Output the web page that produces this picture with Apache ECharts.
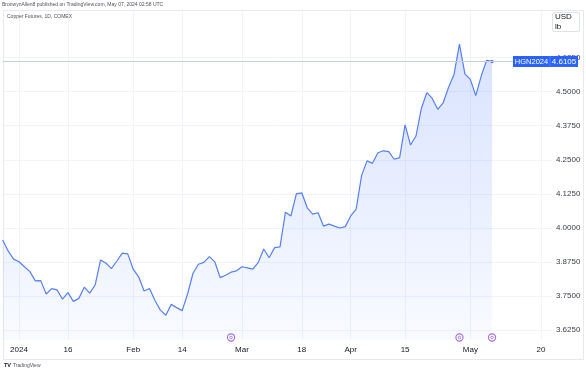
<!DOCTYPE html>
<html><head><meta charset="utf-8">
<script src="https://cdn.jsdelivr.net/npm/echarts@6/dist/echarts.min.js"></script>
<style>html,body{margin:0;padding:0;background:#fff}#c{width:586px;height:373px}</style>
</head><body><div id="c"></div>
<script>
// Trading days (Dec 27 2023 .. May 22 2024)
const dates = [
'2023-12-27','2023-12-28','2023-12-29',
'2024-01-02','2024-01-03','2024-01-04','2024-01-05','2024-01-08','2024-01-09','2024-01-10','2024-01-11','2024-01-12',
'2024-01-16','2024-01-17','2024-01-18','2024-01-19','2024-01-22','2024-01-23','2024-01-24','2024-01-25','2024-01-26',
'2024-01-29','2024-01-30','2024-01-31','2024-02-01','2024-02-02','2024-02-05','2024-02-06','2024-02-07','2024-02-08',
'2024-02-09','2024-02-12','2024-02-13','2024-02-14','2024-02-15','2024-02-16','2024-02-20','2024-02-21','2024-02-22',
'2024-02-23','2024-02-26','2024-02-27','2024-02-28','2024-02-29','2024-03-01','2024-03-04','2024-03-05','2024-03-06',
'2024-03-07','2024-03-08','2024-03-11','2024-03-12','2024-03-13','2024-03-14','2024-03-15','2024-03-18','2024-03-19',
'2024-03-20','2024-03-21','2024-03-22','2024-03-25','2024-03-26','2024-03-27','2024-03-28','2024-04-01','2024-04-02',
'2024-04-03','2024-04-04','2024-04-05','2024-04-08','2024-04-09','2024-04-10','2024-04-11','2024-04-12','2024-04-15',
'2024-04-16','2024-04-17','2024-04-18','2024-04-19','2024-04-22','2024-04-23','2024-04-24','2024-04-25','2024-04-26',
'2024-04-29','2024-04-30','2024-05-01','2024-05-02','2024-05-03','2024-05-06','2024-05-07','2024-05-08','2024-05-09',
'2024-05-10','2024-05-13','2024-05-14','2024-05-15','2024-05-16','2024-05-17','2024-05-20','2024-05-21','2024-05-22'
];
// Copper futures close (USD/lb), Dec 27 2023 .. May 7 2024
const prices = [
3.956,3.916,3.886,
3.876,3.858,3.840,3.806,3.807,3.758,3.778,3.773,3.739,
3.763,3.731,3.742,3.783,3.761,3.791,3.883,3.871,3.851,
3.879,3.908,3.905,3.849,3.821,3.769,3.778,3.734,3.699,
3.680,3.720,3.708,3.697,3.758,3.834,3.867,3.874,3.895,
3.876,3.818,3.827,3.838,3.843,3.858,3.854,3.849,3.874,
3.923,3.891,3.928,3.931,4.058,4.044,4.125,4.129,4.074,
4.051,4.056,4.007,4.014,4.007,4.000,4.005,4.044,4.069,
4.192,4.246,4.237,4.276,4.283,4.280,4.252,4.258,4.378,
4.304,4.337,4.439,4.496,4.475,4.435,4.459,4.516,4.563,
4.674,4.565,4.545,4.485,4.557,4.615,4.6105
];
const xTickDates = ['2024-01-02','2024-01-16','2024-02-01','2024-02-14','2024-03-01','2024-03-18','2024-04-01','2024-04-15','2024-05-01','2024-05-20'];
const xTickLabels = ['2024','16','Feb','14','Mar','18','Apr','15','May','20'];
const yTicks = [3.625,3.75,3.875,4.0,4.125,4.25,4.375,4.5,4.625];
const lastPrice = 4.6105;
const symbolName = 'HGN2024';
const eventDates = ['2024-02-28','2024-04-29','2024-05-07'];

const chart = echarts.init(document.getElementById('c'), null, {renderer:'canvas'});
const FONT = 'Liberation Sans, Arial, sans-serif';
const isTick = (i, v) => xTickDates.indexOf(v) >= 0;
const lastIdx = prices.length - 1;

chart.setOption({
  animation: false,
  backgroundColor: '#ffffff',
  grid: {left: 2.69, right: 34.1, top: 10, bottom: 33, containLabel: false},
  xAxis: {
    type: 'category', data: dates, boundaryGap: false,
    axisLine: {show: false}, axisTick: {show: false},
    axisLabel: {interval: isTick, formatter: v => { const k = xTickDates.indexOf(v); return k >= 0 ? xTickLabels[k] : ''; },
      color: '#131722', fontSize: 8, fontFamily: FONT, margin: 6, fontWeight: 'normal'},
    splitLine: {show: true, interval: isTick, lineStyle: {color: '#f0f3fa', width: 1}}
  },
  yAxis: {
    type: 'value', position: 'right', min: 3.5894, max: 4.7991,
    axisLine: {show: false},
    axisTick: {show: false, customValues: yTicks},
    axisLabel: {customValues: yTicks, formatter: v => v.toFixed(4), color: '#3a3e4a', fontSize: 8, fontFamily: FONT, margin: 4},
    splitLine: {show: true, lineStyle: {color: '#f0f3fa', width: 1}}
  },
  series: [{
    type: 'line', data: prices, showSymbol: false, smooth: false,
    lineStyle: {color: '#5580f2', width: 1.2},
    areaStyle: {color: new echarts.graphic.LinearGradient(0,0,0,1,[
      {offset:0,color:'rgba(41,98,255,0.26)'},{offset:1,color:'rgba(41,98,255,0.04)'}])},
    markLine: {silent: true, symbol: ['none','none'], label: {show:false},
      lineStyle: {color: '#c9cede', width: 1, type: 'solid'},
      data: [{yAxis: lastPrice}]},
    z: 3
  },{
    type: 'scatter', data: [[dates[lastIdx], prices[lastIdx]]], symbolSize: 3.5,
    itemStyle: {color: '#2962ff'}, z: 4
  }]
});

const py = chart.convertToPixel({yAxisIndex: 0}, lastPrice);
const evEls = eventDates.map(d => {
  const x = chart.convertToPixel({xAxisIndex: 0}, d);
  return {type:'group', children:[
    {type:'circle', shape:{cx:x, cy:337.5, r:3.6}, style:{fill:'#fff', stroke:'#a36ddf', lineWidth:1.1}},
    {type:'circle', shape:{cx:x, cy:337.5, r:1.3}, style:{fill:'none', stroke:'#a36ddf', lineWidth:0.8}}
  ]};
});

chart.setOption({graphic: [
  {type:'rect', shape:{x:3.5, y:10.5, width:580, height:349}, style:{fill:'none', stroke:'#e6e9f0', lineWidth:1}, silent:true},
  {type:'text', x:2, y:2, style:{text:'BronwynAllen8 published on TradingView.com, May 07, 2024 02:58 UTC', fontSize:5, fill:'#50535e', fontFamily:FONT}},
  {type:'text', x:7, y:14, style:{text:'Copper Futures, 1D, COMEX', fontSize:5, fill:'#50535e', fontFamily:FONT}},
  {type:'rect', shape:{x:552.5, y:12.5, width:27, height:19, r:1.5}, style:{fill:'#fff', stroke:'#e0e3eb', lineWidth:1}},
  {type:'text', x:555, y:13, style:{text:'USD', fontSize:8, fill:'#131722', fontFamily:FONT}},
  {type:'text', x:555, y:22.5, style:{text:'lb', fontSize:8, fill:'#131722', fontFamily:FONT}},
  {type:'rect', shape:{x:513, y:py-5.5, width:37, height:11}, style:{fill:'#2962ff'}, z:10},
  {type:'text', x:531.5, y:py, style:{text:symbolName, fontSize:7.5, fill:'#fff', fontFamily:FONT, align:'center', verticalAlign:'middle'}, z:11},
  {type:'line', shape:{x1:550, y1:py-5, x2:550, y2:py+5}, style:{stroke:'#9db4ff', lineWidth:0.8, lineDash:[1,1]}, z:11},
  {type:'rect', shape:{x:550, y:py-5.5, width:28, height:11}, style:{fill:'#2962ff'}, z:10},
  {type:'text', x:564, y:py, style:{text:lastPrice.toFixed(4), fontSize:8, fill:'#fff', fontFamily:FONT, align:'center', verticalAlign:'middle'}, z:11},
  ...evEls,
  {type:'text', x:4, y:362.5, style:{text:'TV', fontSize:5.5, fontWeight:'bold', fill:'#131722', fontFamily:FONT}},
  {type:'text', x:13, y:363, style:{text:'TradingView', fontSize:5, fill:'#50535e', fontFamily:FONT}}
]});
</script></body></html>
